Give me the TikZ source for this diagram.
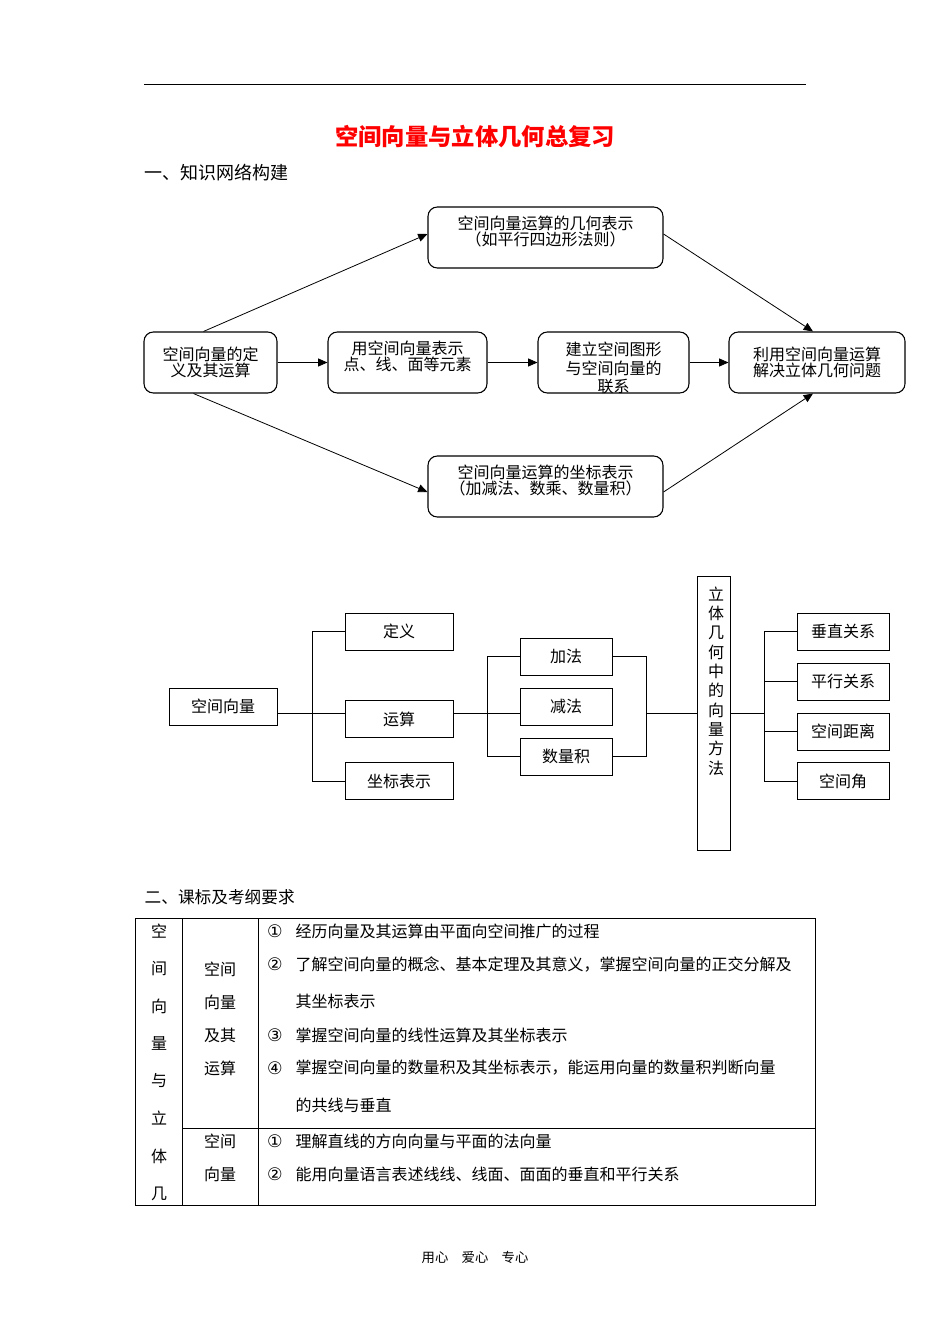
\documentclass[tikz,border=0pt]{standalone}
\usepackage{fontspec}
\setmainfont{Noto Sans CJK SC}
\newfontfamily\sym{DejaVu Sans}
\usetikzlibrary{arrows.meta}
\begin{document}
\begin{tikzpicture}[x=0.75pt,y=-0.75pt,font=\fontsize{12}{14}\selectfont,
 rb/.style={draw,rounded corners=7pt,line width=0.8pt,align=center,inner sep=0pt,font=\fontsize{12}{12}\selectfont},
 sb/.style={draw,line width=0.7pt,align=center,inner sep=0pt},
 arr/.style={-{Triangle[length=7pt,width=6pt]},line width=0.6pt},
 ln/.style={line width=0.6pt}]
\useasboundingbox (0,0) rectangle (950,1344);
\draw[line width=0.6pt] (144,84) -- (806,84);
\node[text=red,font=\fontsize{17.5}{17.5}\selectfont\bfseries] (title) at (475,137) {空间向量与立体几何总复习};
\node[anchor=west,font=\fontsize{13.5}{13.5}\selectfont] (s1) at (140,173) {一、知识网络构建};
% flowchart
\node[rb,minimum width=133*0.75pt,minimum height=61*0.75pt] (A) at (210.5,362.5) {空间向量的定\\义及其运算};
\node[rb,minimum width=159*0.75pt,minimum height=61*0.75pt] (B) at (407.5,362.5) {用空间向量表示\\点、线、面等元素\\[-2pt]};
\node[rb,minimum width=151*0.75pt,minimum height=61*0.75pt] (C) at (613.5,362.5) {};
\node[align=center,font=\fontsize{12}{14}\selectfont] (Ct) at (613.5,368) {建立空间图形\\与空间向量的\\联系};
\node[rb,minimum width=176*0.75pt,minimum height=61*0.75pt] (D) at (817,362.5) {利用空间向量运算\\解决立体几何问题};
\node[rb,minimum width=235*0.75pt,minimum height=61*0.75pt] (T) at (545.5,237.5) {空间向量运算的几何表示\\（如平行四边形法则）\\[-2pt]};
\node[rb,minimum width=235*0.75pt,minimum height=61*0.75pt] (Bo) at (545.5,486.5) {空间向量运算的坐标表示\\（加减法、数乘、数量积）\\[-2pt]};
\draw[arr] (A) -- (B); \draw[arr] (B) -- (C); \draw[arr] (C) -- (D);
\draw[arr] (A.north) ++(-7,0) coordinate (a1) -- (T.west|-0,234) coordinate (t1);
\draw[arr] (T.east|-0,234) -- ([xshift=-4*0.75pt]D.north);
\draw[arr] (A.south) ++(-17,0) -- (Bo.west|-0,492);
\draw[arr] (Bo.east|-0,492) -- ([xshift=-4*0.75pt]D.south);
% tree
\node[sb,minimum width=108*0.75pt,minimum height=37*0.75pt] (V) at (223,706.5) {空间向量};
\node[sb,minimum width=108*0.75pt,minimum height=37*0.75pt] (d1) at (399,631.5) {定义};
\node[sb,minimum width=108*0.75pt,minimum height=37*0.75pt] (d2) at (399,719) {运算};
\node[sb,minimum width=108*0.75pt,minimum height=37*0.75pt] (d3) at (399,781) {坐标表示};
\node[sb,minimum width=92*0.75pt,minimum height=37*0.75pt] (e1) at (566,656.5) {加法};
\node[sb,minimum width=92*0.75pt,minimum height=37*0.75pt] (e2) at (566,706.5) {减法};
\node[sb,minimum width=92*0.75pt,minimum height=37*0.75pt] (e3) at (566,756.5) {数量积};
\node[sb,minimum width=33*0.75pt,minimum height=274*0.75pt] (M) at (713.5,713) {};
\node[align=center,font=\fontsize{12}{14.5}\selectfont,anchor=north] (Mt) at (716,582) {立\\体\\几\\何\\中\\的\\向\\量\\方\\法};
\node[sb,minimum width=92*0.75pt,minimum height=37*0.75pt] (f1) at (843,631.5) {垂直关系};
\node[sb,minimum width=92*0.75pt,minimum height=37*0.75pt] (f2) at (843,681.5) {平行关系};
\node[sb,minimum width=92*0.75pt,minimum height=37*0.75pt] (f3) at (843,731.5) {空间距离};
\node[sb,minimum width=92*0.75pt,minimum height=37*0.75pt] (f4) at (843,781) {空间角};
\draw[ln] (V.east|-0,713) -- (d2.west|-0,713);
\draw[ln] (d1.west) -| (312,781) -- (d3.west);
\draw[ln] (d2.east|-0,713) -- (e2.west|-0,713);
\draw[ln] (e1.west) -| (487,756.5) -- (e3.west);
\draw[ln] (e1.east) -| (646,756.5) -- (e3.east);
\draw[ln] (646,713) -- (M.west|-0,713);
\draw[ln] (M.east|-0,713) -- (764,713);
\draw[ln] (f1.west) -| (764,781) -- (f4.west);
\draw[ln] (764,681.5) -- (f2.west); \draw[ln] (764,731.5) -- (f3.west);
% table
\node[anchor=west,font=\fontsize{12.5}{12.5}\selectfont] (s2) at (140,897) {二、课标及考纲要求};
\draw[line width=0.7pt] (135,918) rectangle (815,1205);
\draw[line width=0.7pt] (182,918) -- (182,1205) (258,918) -- (258,1205) (182,1128) -- (815,1128);
\foreach \c [count=\i] in {空,间,向,量,与,立,体,几}
  \node (c\i) at (159,931+37.5*\i-37.5) {\c};
\foreach \t/\y in {空间/969,向量/1002,及其/1035,运算/1068,空间/1141,向量/1174}
  \node (k) at (220,\y) {\t};
\foreach \n/\y/\t in {①/931/经历向量及其运算由平面向空间推广的过程,
 ②/964/了解空间向量的概念、基本定理及其意义，掌握空间向量的正交分解及,
 ③/1035/掌握空间向量的线性运算及其坐标表示,
 ④/1068/掌握空间向量的数量积及其坐标表示，能运用向量的数量积判断向量,
 ①/1141/理解直线的方向向量与平面的法向量,
 ②/1174/能用向量语言表述线线、线面、面面的垂直和平行关系}
 {\node (n) at (275,\y) {\sym\fontsize{13}{13}\selectfont\n}; \node[anchor=west] (r) at (291,\y) {\t};}
\node[anchor=west] (r2) at (291,1001) {其坐标表示};
\node[anchor=west] (r4) at (291,1105) {的共线与垂直};
\node[font=\fontsize{10}{10}\selectfont] (foot) at (475,1257) {用心\quad 爱心\quad 专心};
\end{tikzpicture}
\end{document}
